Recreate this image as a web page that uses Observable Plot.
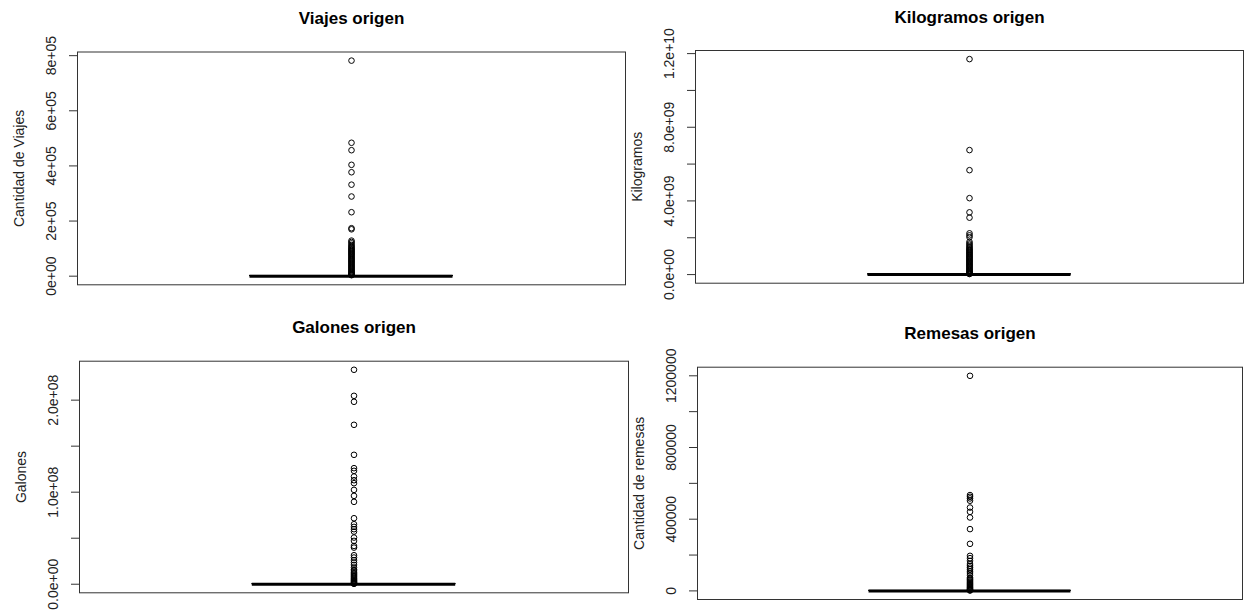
<!DOCTYPE html>
<html><head><meta charset="utf-8">
<script src="https://cdn.jsdelivr.net/npm/d3@7"></script>
<script src="https://cdn.jsdelivr.net/npm/@observablehq/plot@0.6"></script>
<style>
html,body{margin:0;padding:0;background:#fff;}
#root{position:relative;width:1248px;height:613px;overflow:hidden;font-family:"Liberation Sans",Arial,sans-serif;}
#root > .panel{position:absolute;}
</style></head><body><div id="root"></div>
<script>
// ---------- DATA ----------
const titles = ["Viajes origen", "Kilogramos origen", "Galones origen", "Remesas origen"];
const yLabels = ["Cantidad de Viajes", "Kilogramos", "Galones", "Cantidad de remesas"];

// box statistics: [lower whisker, Q1, median, Q3, upper whisker]
const viajesStats = [0, 20, 180, 900, 2200];
const kilogramosStats = [0, 0, 1.5e6, 2.0e7, 5.0e7];
const galonesStats = [0, 0, 0, 2.0e5, 5.0e5];
const remesasStats = [0, 1, 10, 80, 200];

// outliers
const viajesOutliers = [782000, 484000, 457000, 404000, 377000, 332000, 289000, 232000, 174000, 170000,
  129000, 124000, 119000, 113000, 109000, 104500, 101200, 97800, 95100, 91000, 88400, 84700, 81300, 78900,
  75200, 71800, 68500, 65300, 62100, 58800, 55400, 52600, 49200, 46100, 42700, 39500, 36300, 33100, 29800,
  26400, 23200, 20100, 17300, 14500, 11800, 9200, 7000, 5100, 3600];
const kilogramosOutliers = [1.17e10, 6.76e9, 5.67e9, 4.15e9, 3.38e9, 3.09e9, 2.24e9, 2.13e9, 2.03e9, 1.78e9,
  1.69e9, 1.62e9, 1.54e9, 1.48e9, 1.42e9, 1.36e9, 1.33e9, 1.27e9, 1.22e9, 1.18e9, 1.13e9, 1.09e9, 1.04e9,
  0.99e9, 0.95e9, 0.91e9, 0.86e9, 0.82e9, 0.77e9, 0.73e9, 0.69e9, 0.64e9, 0.60e9, 0.55e9, 0.51e9, 0.47e9,
  0.42e9, 0.38e9, 0.33e9, 0.29e9, 0.25e9, 0.20e9, 0.16e9, 0.12e9, 0.08e9, 0.05e9, 0.03e9];
const galonesOutliers = [233e6, 204.7e6, 198.2e6, 173.2e6, 140.6e6, 126.1e6, 123.2e6, 117e6, 113e6, 109.8e6,
  102.5e6, 96e6, 89.5e6, 71.7e6, 65.2e6, 62.3e6, 59.8e6, 57.2e6, 50.7e6, 47.1e6, 41.6e6, 39.8e6, 31.5e6,
  29e6, 26.1e6, 23.5e6, 21e6, 18e6, 16e6, 14.5e6, 13e6, 11.8e6, 10.5e6, 9.3e6, 8.2e6, 7e6, 6e6, 5e6, 4.2e6,
  3.4e6, 2.6e6, 1.9e6, 1.3e6, 0.8e6, 0.4e6];
const remesasOutliers = [1200000, 534600, 525000, 516000, 503000, 465000, 441000, 409600, 344700, 262600,
  195600, 182600, 167600, 150000, 139700, 130000, 121000, 110000, 100000, 87700, 74000, 68000, 63000, 58000,
  52000, 47000, 42000, 37000, 32000, 27000, 22000, 18000, 14000, 10000, 7000, 4000, 2000];

// axis ticks and labels
const viajesTicks = [0, 2e5, 4e5, 6e5, 8e5];
const viajesLabelValues = [0, 2e5, 4e5, 6e5, 8e5];
const viajesLabels = ["0e+00", "2e+05", "4e+05", "6e+05", "8e+05"];
const kilogramosTicks = [0, 2e9, 4e9, 6e9, 8e9, 1e10, 1.2e10];
const kilogramosLabelValues = [0, 4e9, 8e9, 1.2e10];
const kilogramosLabels = ["0.0e+00", "4.0e+09", "8.0e+09", "1.2e+10"];
const galonesTicks = [0, 5e7, 1e8, 1.5e8, 2e8];
const galonesLabelValues = [0, 1e8, 2e8];
const galonesLabels = ["0.0e+00", "1.0e+08", "2.0e+08"];
const remesasTicks = [0, 200000, 400000, 600000, 800000, 1000000, 1200000];
const remesasLabelValues = [0, 400000, 800000, 1200000];
const remesasLabels = ["0", "400000", "800000", "1200000"];

// ---------- DRAW ----------
const FONT = '"Liberation Sans", Arial, sans-serif';
function panel(cfg) {
  const [lo, q1, med, q3, hi] = cfg.stats;
  const mx = d3.max(cfg.values);
  const pad = 0.04 * (mx - lo);
  const chart = Plot.plot({
    width: cfg.width, height: cfg.height,
    marginTop: cfg.m[0], marginRight: cfg.m[1], marginBottom: cfg.m[2], marginLeft: cfg.m[3],
    x: {domain: [0.46, 1.54], axis: null},
    y: {domain: [lo - pad, mx + pad], axis: null},
    style: {fontFamily: FONT, background: "transparent", color: "#111", overflow: "visible"},
    marks: [
      Plot.frame({stroke: "#333", strokeWidth: 1}),
      Plot.axisY({ticks: cfg.ticks, tickSize: 8, tickFormat: () => "", label: null, stroke: "#333"}),
      Plot.text(cfg.labelValues, {y: d => d, text: (d, i) => cfg.labels[i], frameAnchor: "left", dx: -26,
        rotate: -90, fontSize: 14, textAnchor: "middle", lineAnchor: "middle", fill: "#222"}),
      Plot.text([cfg.ylabel], {text: d => d, frameAnchor: "left", dx: -58, rotate: -90, fontSize: 14,
        textAnchor: "middle", lineAnchor: "middle", fill: "#222"}),
      Plot.text([cfg.title], {text: d => d, frameAnchor: "top", dy: -28, fontSize: 17, fontWeight: "bold",
        lineAnchor: "bottom", fill: "#000"}),
      Plot.ruleX([1], {y1: () => q3, y2: () => hi, strokeDasharray: "4,3", stroke: "#000"}),
      Plot.ruleX([1], {y1: () => lo, y2: () => q1, strokeDasharray: "4,3", stroke: "#000"}),
      Plot.ruleY([hi, lo], {x1: () => 0.9, x2: () => 1.1, stroke: "#000"}),
      Plot.rect([0], {x1: () => 0.8, x2: () => 1.2, y1: () => q1, y2: () => q3, stroke: "#000", fill: "none"}),
      Plot.dot(cfg.values, {x: () => 1, y: d => d, r: 2.8, stroke: "#000", strokeWidth: 1, fill: "none"}),
      Plot.ruleY([med], {x1: () => 0.8, x2: () => 1.2, stroke: "#000", strokeWidth: 3})
    ]
  });
  const div = document.createElement("div");
  div.className = "panel";
  div.style.left = cfg.left + "px";
  div.style.top = cfg.top + "px";
  div.appendChild(chart);
  document.getElementById("root").appendChild(div);
}

panel({title: titles[0], ylabel: yLabels[0], values: viajesOutliers, stats: viajesStats,
  ticks: viajesTicks, labelValues: viajesLabelValues, labels: viajesLabels,
  left: 0, top: 0, width: 630, height: 306, m: [51.5, 5, 21.7, 77]});
panel({title: titles[1], ylabel: yLabels[1], values: kilogramosOutliers, stats: kilogramosStats,
  ticks: kilogramosTicks, labelValues: kilogramosLabelValues, labels: kilogramosLabels,
  left: 630, top: 0, width: 618, height: 306, m: [50, 5, 23.3, 65]});
panel({title: titles[2], ylabel: yLabels[2], values: galonesOutliers, stats: galonesStats,
  ticks: galonesTicks, labelValues: galonesLabelValues, labels: galonesLabels,
  left: 0, top: 306, width: 632, height: 307, m: [54.7, 4, 20.7, 79]});
panel({title: titles[3], ylabel: yLabels[3], values: remesasOutliers, stats: remesasStats,
  ticks: remesasTicks, labelValues: remesasLabelValues, labels: remesasLabels,
  left: 632, top: 306, width: 616, height: 307, m: [60.7, 6, 14, 65]});
</script></body></html>
